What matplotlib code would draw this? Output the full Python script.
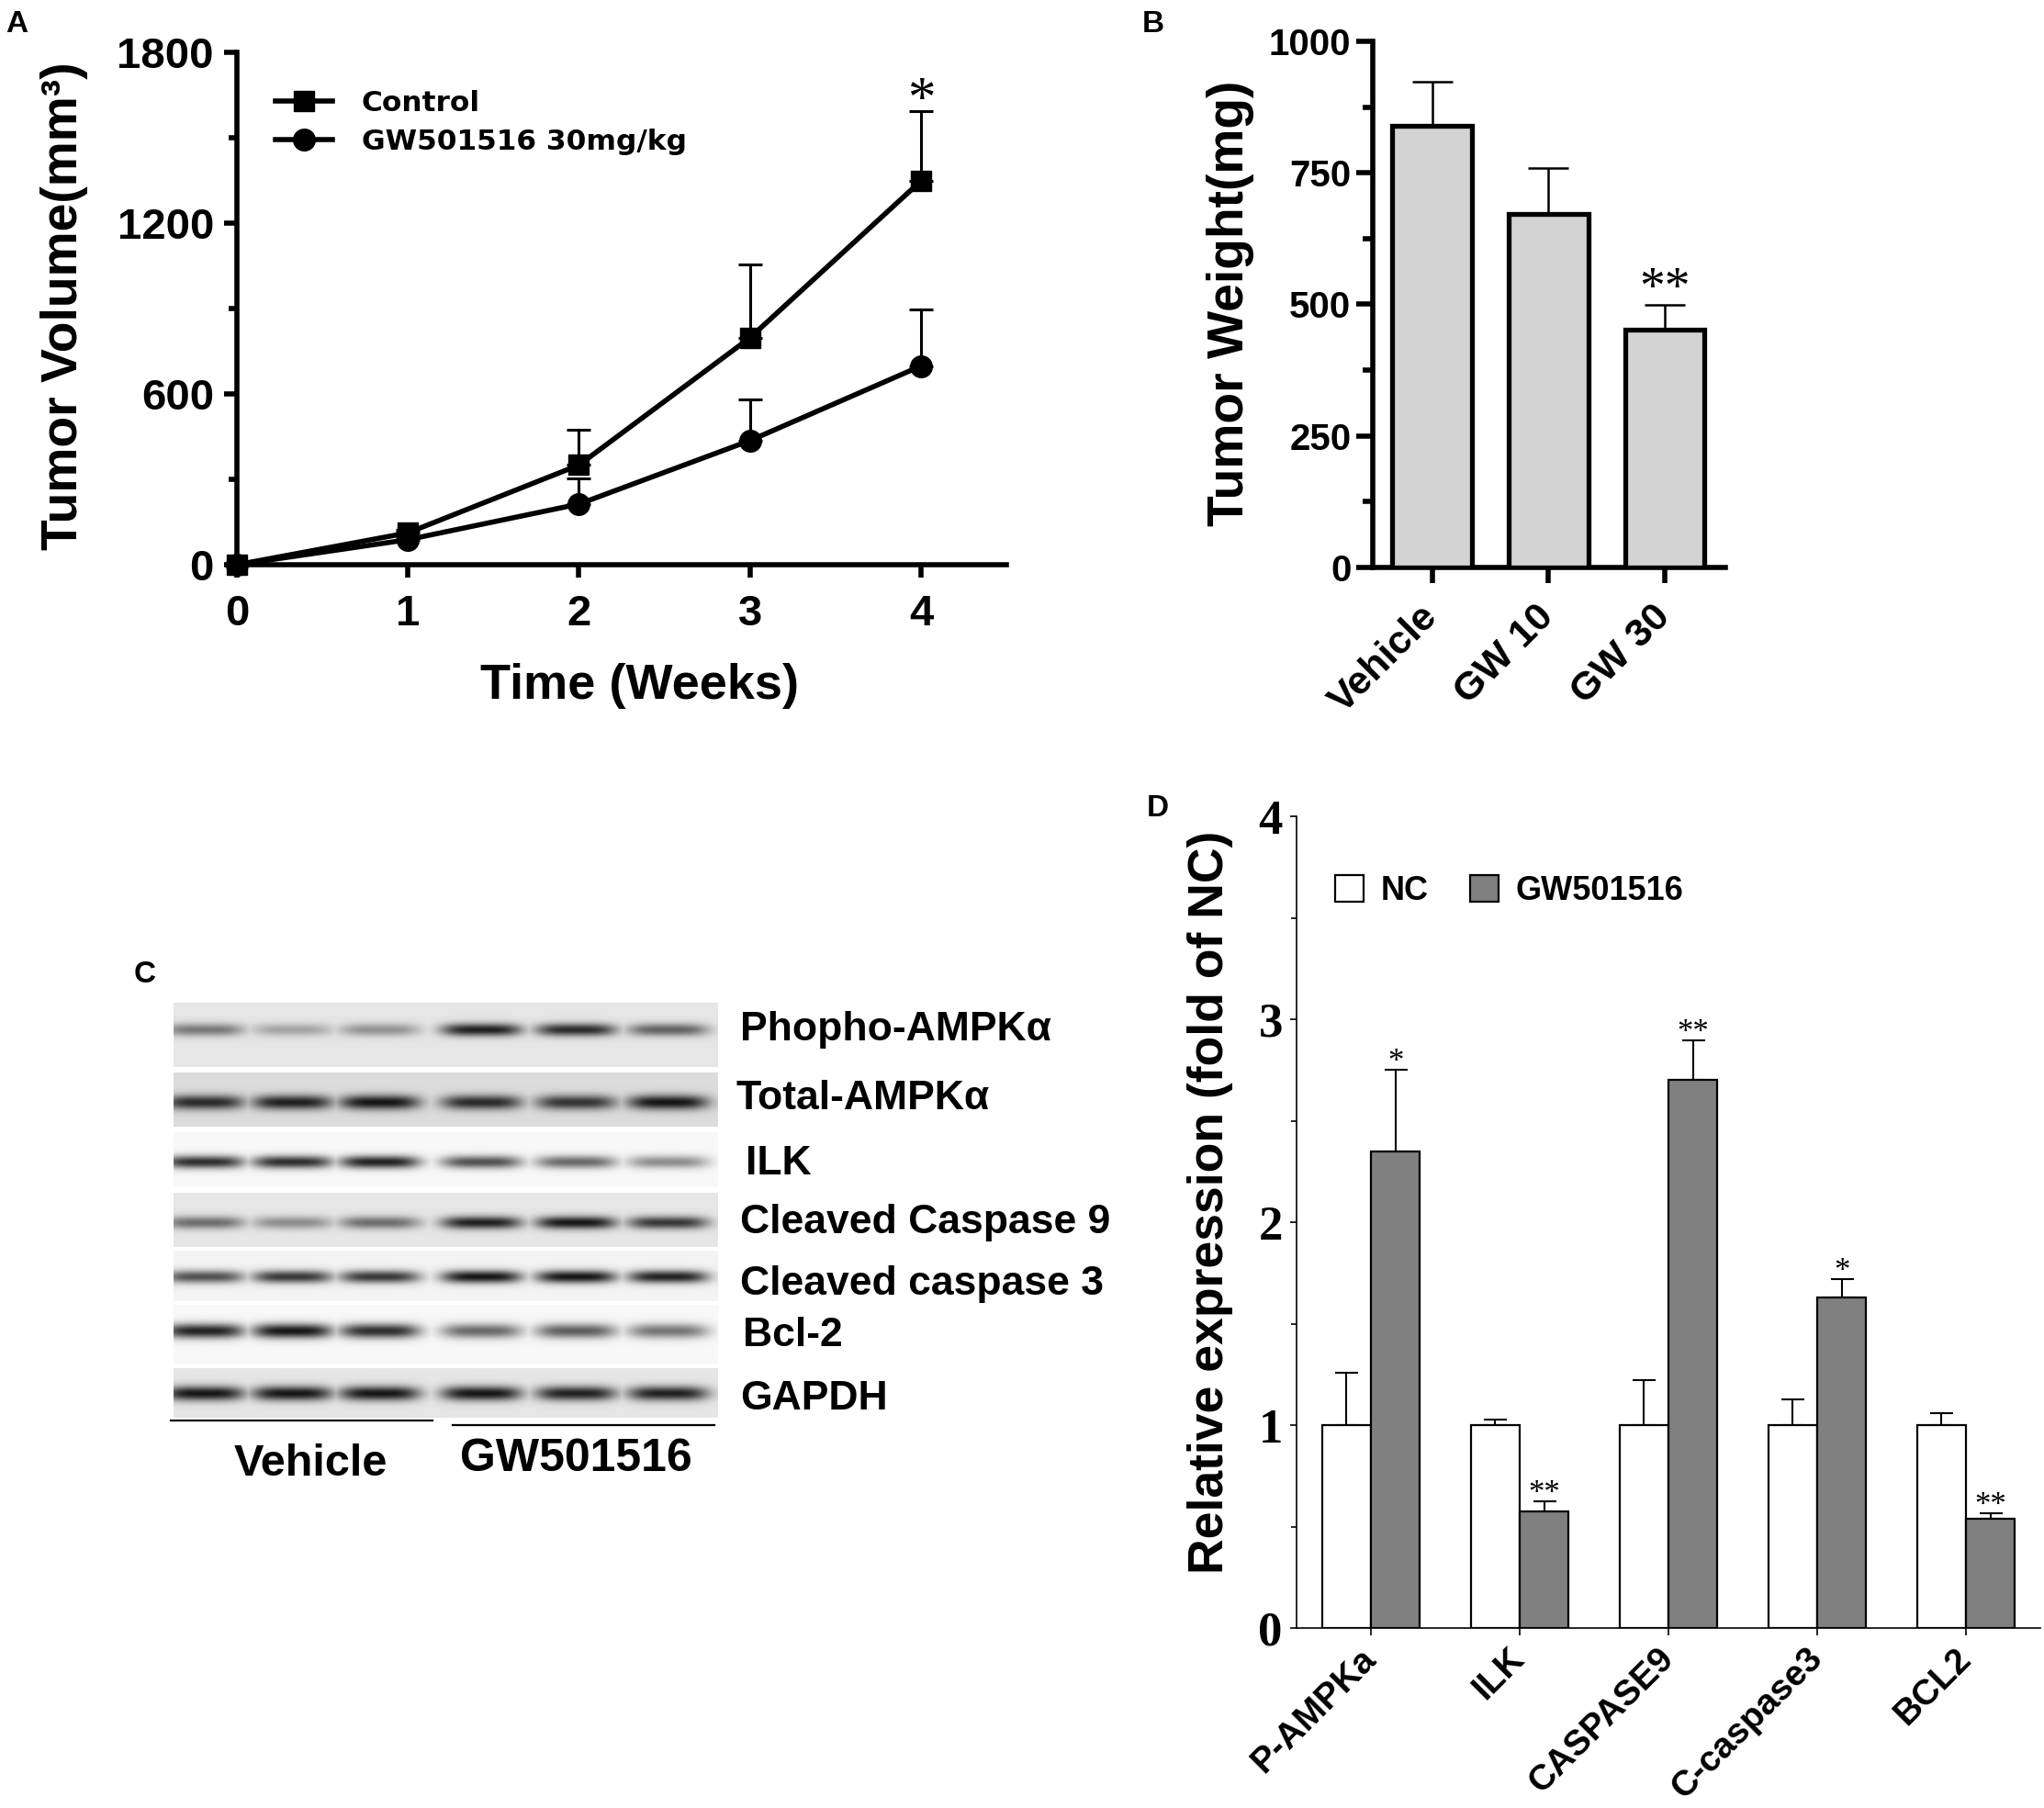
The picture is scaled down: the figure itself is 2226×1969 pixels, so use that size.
import numpy as np
import matplotlib
matplotlib.use("Agg")
import matplotlib.pyplot as plt
from matplotlib.lines import Line2D
from matplotlib.patches import Patch
from matplotlib.ticker import MultipleLocator

W, H = 2226, 1969

# ---- panel A: tumor volume over time
weeks = [0, 1, 2, 3, 4]
control_vol = [0, 112, 350, 797, 1348]
control_err = [0, 12, 125, 258, 247]
gw_vol = [0, 88, 213, 436, 698]
gw_vol_err = [0, 8, 91, 144, 198]
vol_marks = ["", "", "", "", "*"]

# ---- panel B: tumor weight
weight_groups = ["Vehicle", "GW 10", "GW 30"]
weight_mean = [840, 672, 452]
weight_err = [83, 88, 47]
weight_marks = ["", "", "**"]

# ---- panel C: western blot (band darkness per lane, 3 vehicle + 3 GW501516)
blot_proteins = ["Phopho-AMPKα", "Total-AMPKα", "ILK", "Cleaved Caspase 9",
                 "Cleaved caspase 3", "Bcl-2", "GAPDH"]
band_phospho = [0.50, 0.30, 0.38, 0.90, 0.85, 0.60]
band_total = [0.85, 0.90, 0.95, 0.85, 0.80, 0.95]
band_ilk = [0.85, 0.85, 0.90, 0.70, 0.60, 0.45]
band_cc9 = [0.55, 0.40, 0.55, 0.90, 0.95, 0.80]
band_cc3 = [0.70, 0.80, 0.80, 0.95, 0.95, 0.90]
band_bcl2 = [0.90, 0.95, 0.85, 0.60, 0.65, 0.55]
band_gapdh = [0.95, 0.95, 0.95, 0.95, 0.90, 0.90]
blot_groups = ["Vehicle", "GW501516"]

# ---- panel D: relative expression
genes = ["P-AMPKa", "ILK", "CASPASE9", "C-caspase3", "BCL2"]
nc_expr = [1.0, 1.0, 1.0, 1.0, 1.0]
nc_expr_err = [0.26, 0.025, 0.22, 0.125, 0.06]
gw_expr = [2.35, 0.575, 2.70, 1.63, 0.54]
gw_expr_err = [0.40, 0.05, 0.195, 0.09, 0.025]
expr_marks = ["*", "**", "**", "*", "**"]

plt.rcParams["font.family"] = ["Liberation Sans", "DejaVu Sans"]
plt.rcParams["font.weight"] = "bold"
plt.rcParams["axes.labelweight"] = "bold"
SERIF = ["Liberation Serif", "DejaVu Serif"]


def box(l, t, r, b):
    return [l / W, 1 - b / H, (r - l) / W, (b - t) / H]


fig = plt.figure(figsize=(W / 100, H / 100), dpi=100)

# overlay in pixel coordinates, used for the blot and free labels
ov = fig.add_axes([0, 0, 1, 1])
ov.set_xlim(0, W)
ov.set_ylim(H, 0)
ov.axis("off")

for letter, x, y in [("A", 6, 26), ("B", 1244, 26), ("C", 146, 1061), ("D", 1249, 880)]:
    ov.text(x, y, letter, fontsize=24, ha="left", va="center")

# ================= A =================
axA = fig.add_axes(box(258, 57, 1096, 615))
zeros = [0] * len(weeks)
axA.errorbar(weeks, control_vol, yerr=[zeros, control_err], fmt="-s", color="black",
             lw=4, ms=16.5, elinewidth=2.2, capsize=9.4, capthick=2.2, clip_on=False, zorder=3)
axA.errorbar(weeks, gw_vol, yerr=[zeros, gw_vol_err], fmt="-o", color="black",
             lw=4, ms=17, elinewidth=2.2, capsize=9.4, capthick=2.2, clip_on=False, zorder=3)
for x, v, e, m in zip(weeks, control_vol, control_err, vol_marks):
    if m:
        axA.text(x, v + e - 15, m, fontsize=44, family=SERIF, fontweight="normal",
                 ha="center", va="baseline")
axA.set_xlim(0, 4.5)
axA.set_ylim(0, 1800)
axA.set_xticks(weeks)
axA.set_yticks([0, 600, 1200, 1800])
axA.yaxis.set_minor_locator(MultipleLocator(300))
for s in ["top", "right"]:
    axA.spines[s].set_visible(False)
for s in ["left", "bottom"]:
    axA.spines[s].set_linewidth(4)
axA.tick_params(axis="both", which="major", width=4, length=10, labelsize=34)
axA.tick_params(axis="y", which="minor", width=4, length=6.5)
axA.tick_params(axis="y", pad=8)
axA.tick_params(axis="x", pad=13)
axA.set_xlabel("Time (Weeks)", fontsize=39)
axA.xaxis.set_label_coords(697, 747, transform=ov.transData)
axA.xaxis.label.set_va("center")
axA.set_ylabel("Tumor Volume(mm³)", fontsize=39.8)
axA.yaxis.set_label_coords(70, 333, transform=ov.transData)
axA.yaxis.label.set_va("center")
legA = [Line2D([], [], color="black", lw=4, marker="s", ms=16.5, label="Control"),
        Line2D([], [], color="black", lw=4, marker="o", ms=17, label="GW501516 30mg/kg")]
axA.legend(handles=legA, loc="center left", bbox_to_anchor=(0.05, 0.863), frameon=False,
           prop={"family": "DejaVu Sans", "weight": "bold", "size": 22.5},
           handlelength=2.0, handletextpad=1.0, labelspacing=0.4,
           borderpad=0, borderaxespad=0)

# ================= B =================
axB = fig.add_axes(box(1495, 45, 1879, 618))
xb = np.arange(len(weight_groups))
axB.bar(xb, weight_mean, width=0.684, color="#d3d3d3", edgecolor="black", lw=3.8, zorder=3)
axB.errorbar(xb, weight_mean, yerr=[[0] * 3, weight_err], fmt="none", ecolor="black",
             elinewidth=1.8, capsize=15.5, capthick=1.8, zorder=2)
for x, v, e, m in zip(xb, weight_mean, weight_err, weight_marks):
    if m:
        axB.text(x, v + e + 4, m, fontsize=40, family=SERIF, fontweight="normal",
                 ha="center", va="baseline")
axB.set_xlim(-0.51, 2.52)
axB.set_ylim(0, 1000)
axB.set_yticks([0, 250, 500, 750, 1000])
axB.yaxis.set_minor_locator(MultipleLocator(125))
axB.set_xticks(xb)
axB.set_xticklabels(weight_groups, rotation=45, ha="right", va="center", rotation_mode="anchor")
for s in ["top", "right"]:
    axB.spines[s].set_visible(False)
for s in ["left", "bottom"]:
    axB.spines[s].set_linewidth(4)
axB.tick_params(axis="y", which="major", width=4, length=13, labelsize=29, pad=4)
axB.tick_params(axis="y", which="minor", width=4, length=8)
axB.tick_params(axis="x", which="major", width=4, length=12, labelsize=31, pad=22)
axB.set_ylabel("Tumor Weight(mg)", fontsize=39.8)
axB.yaxis.set_label_coords(1340, 330, transform=ov.transData)
axB.yaxis.label.set_va("center")

# ================= C =================
lane_x = [222, 318, 413, 524, 627, 727]
strips = [(1092, 1162), (1168, 1227), (1233, 1292), (1299, 1358),
          (1362, 1417), (1421, 1485), (1490, 1544)]
band_y = [1121, 1200, 1265, 1331, 1390, 1449, 1517]
band_h = [7, 8, 7, 7, 7, 8, 8]
strip_bg = [0.90, 0.86, 0.97, 0.90, 0.95, 0.97, 0.90]
bands = [band_phospho, band_total, band_ilk, band_cc9, band_cc3, band_bcl2, band_gapdh]
label_y = [1121, 1196, 1267, 1331, 1398, 1454, 1523]
label_x = [806, 802, 812, 806, 806, 809, 806]

x0, x1, y0, y1 = 180, 790, 1080, 1560
yy, xx = np.mgrid[y0:y1, x0:x1].astype(float)
img = np.ones_like(xx)
for (t, b), bg, cy, hh, row in zip(strips, strip_bg, band_y, band_h, bands):
    inside = (yy >= t) & (yy < b) & (xx >= 189) & (xx < 782)
    dark = np.zeros_like(xx)
    for cx, d in zip(lane_x, row):
        dark = np.maximum(dark, d * np.exp(-((xx - cx) / 44.0) ** 4 - ((yy - cy) / hh) ** 2))
    img = np.where(inside, bg * (1 - 0.95 * dark), img)
ov.imshow(img, cmap="gray", vmin=0, vmax=1, extent=(x0, x1, y1, y0),
          interpolation="bilinear", aspect="auto")
ov.set_xlim(0, W)
ov.set_ylim(H, 0)
for name, lx, ly in zip(blot_proteins, label_x, label_y):
    ov.text(lx, ly, name, fontsize=32, ha="left", va="center")
ov.plot([186, 471], [1547, 1547], color="black", lw=1.6)
ov.plot([493, 778], [1552, 1552], color="black", lw=1.6)
ov.text(338, 1594, blot_groups[0], fontsize=35, ha="center", va="center")
ov.text(627, 1589, blot_groups[1], fontsize=36, ha="center", va="center")

# ================= D =================
axD = fig.add_axes(box(1412, 889, 2222, 1773))
xd = np.arange(len(genes))
bw = 0.33
axD.bar(xd - bw / 2, nc_expr, width=bw, color="white", edgecolor="black", lw=1.6,
        label="NC", zorder=3)
axD.bar(xd + bw / 2, gw_expr, width=bw, color="#808080", edgecolor="black", lw=1.6,
        label="GW501516", zorder=3)
axD.errorbar(xd - bw / 2, nc_expr, yerr=[[0] * 5, nc_expr_err], fmt="none", ecolor="black",
             elinewidth=1.5, capsize=9, capthick=1.5, zorder=2)
axD.errorbar(xd + bw / 2, gw_expr, yerr=[[0] * 5, gw_expr_err], fmt="none", ecolor="black",
             elinewidth=1.5, capsize=9, capthick=1.5, zorder=2)
for x, v, e, m in zip(xd, gw_expr, gw_expr_err, expr_marks):
    axD.text(x + bw / 2, v + e - 0.005, m, fontsize=25, family=SERIF, fontweight="normal",
             ha="center", va="baseline")
axD.set_xlim(-0.5, 4.5)
axD.set_ylim(0, 4)
axD.set_yticks([0, 1, 2, 3, 4])
axD.yaxis.set_minor_locator(MultipleLocator(0.5))
axD.set_xticks(xd)
axD.set_xticklabels(genes, rotation=45, ha="right", va="center", rotation_mode="anchor")
for lab in axD.get_yticklabels():
    lab.set_family(SERIF)
for s in ["top", "right"]:
    axD.spines[s].set_visible(False)
for s in ["left", "bottom"]:
    axD.spines[s].set_linewidth(1.2)
axD.tick_params(axis="y", which="major", width=1.2, length=5, labelsize=38, pad=6)
axD.tick_params(axis="y", which="minor", width=1.2, length=4)
axD.tick_params(axis="x", which="major", width=1.2, length=6, labelsize=28, pad=14)
axD.set_ylabel("Relative expression (fold of NC)", fontsize=38.5)
axD.yaxis.set_label_coords(1318, 1309, transform=ov.transData)
axD.yaxis.label.set_va("center")
legD = [Patch(facecolor="white", edgecolor="black", lw=1.6, label="NC"),
        Patch(facecolor="#808080", edgecolor="black", lw=1.6, label="GW501516")]
axD.legend(handles=legD, loc="center left", bbox_to_anchor=(0.052, 0.908), frameon=False,
           ncol=2, prop={"weight": "bold", "size": 26}, handlelength=0.86, handleheight=0.86,
           handletextpad=0.5, columnspacing=1.27, borderpad=0, borderaxespad=0)

fig.savefig("out.png", dpi=100)
